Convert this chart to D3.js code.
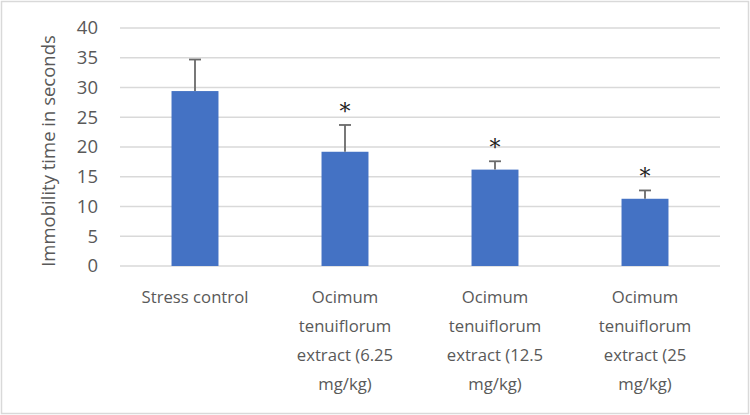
<!DOCTYPE html>
<html>
<head>
<meta charset="utf-8">
<script src="https://cdn.jsdelivr.net/npm/d3@7"></script>
<style>
  body { margin: 0; background: #fff; }
  text { font-family: "Open Sans", "Liberation Sans", sans-serif; }
</style>
</head>
<body>
<svg id="mainsvg"></svg>
<script>
// data
let groups = ["Stress control",
              "Ocimum tenuiflorum extract (6.25 mg/kg)",
              "Ocimum tenuiflorum extract (12.5 mg/kg)",
              "Ocimum tenuiflorum extract (25 mg/kg)"];
let labelLines = [["Stress control"],
                  ["Ocimum", "tenuiflorum", "extract (6.25", "mg/kg)"],
                  ["Ocimum", "tenuiflorum", "extract (12.5", "mg/kg)"],
                  ["Ocimum", "tenuiflorum", "extract (25", "mg/kg)"]];
let means = [29.4, 19.2, 16.2, 11.3];
let errors = [5.3, 4.5, 1.4, 1.4];
let significant = [false, true, true, true];
let yTicks = [0, 5, 10, 15, 20, 25, 30, 35, 40];

let svgWidth = 750, svgHeight = 415,
    margin = {top: 28, left: 120, right: 30, bottom: 149},
    width = svgWidth - margin.left - margin.right,
    height = svgHeight - margin.top - margin.bottom;

let rows = groups.map((d, i) => ({name: d, mean: means[i], err: errors[i], sig: significant[i], lines: labelLines[i]}));

let mainsvg = d3.select("#mainsvg").attr("width", svgWidth).attr("height", svgHeight);

// chart frame
mainsvg.append("rect")
    .attr("x", 1.5).attr("y", 1.5)
    .attr("width", svgWidth - 3).attr("height", svgHeight - 3)
    .attr("fill", "#fff").attr("stroke", "#d9d9d9").attr("stroke-width", 1.5);

let g = mainsvg.append("g").attr("transform", `translate(${margin.left},${margin.top})`);

let scaleX = d3.scaleBand().domain(groups).range([0, width]).paddingInner(0.687).paddingOuter(0.3435);
let scaleY = d3.scaleLinear().domain([0, 40]).range([height, 0]);
let cx = d => scaleX(d.name) + scaleX.bandwidth() / 2;

// gridlines
g.append("g").selectAll("line").data(yTicks).enter().append("line")
    .attr("x1", 0).attr("x2", width)
    .attr("y1", d => scaleY(d)).attr("y2", d => scaleY(d))
    .attr("stroke", "#d9d9d9").attr("stroke-width", 1.5);

// y axis labels
let yAxis = g.append("g")
    .call(d3.axisLeft(scaleY).tickValues(yTicks).tickSize(0).tickPadding(22));
yAxis.select(".domain").remove();
yAxis.selectAll("text")
    .attr("font-size", 18.5).attr("fill", "#595959")
    .style("font-family", "'Open Sans', sans-serif");

// bars
g.append("g").selectAll("rect").data(rows).enter().append("rect")
    .attr("x", d => scaleX(d.name))
    .attr("width", scaleX.bandwidth())
    .attr("y", d => scaleY(d.mean))
    .attr("height", d => scaleY(0) - scaleY(d.mean))
    .attr("fill", "#4472c4");

// error bars (upper only)
let err = g.append("g").attr("stroke", "#6a6a6a").attr("stroke-width", 1.8);
err.selectAll(".stem").data(rows).enter().append("line")
    .attr("x1", cx).attr("x2", cx)
    .attr("y1", d => scaleY(d.mean)).attr("y2", d => scaleY(d.mean + d.err));
err.selectAll(".cap").data(rows).enter().append("line")
    .attr("x1", d => cx(d) - 6).attr("x2", d => cx(d) + 6)
    .attr("y1", d => scaleY(d.mean + d.err)).attr("y2", d => scaleY(d.mean + d.err));

// significance asterisks
g.append("g").selectAll("text").data(rows.filter(d => d.sig)).enter()
    .append("text")
    .attr("x", cx)
    .attr("y", d => scaleY(d.mean + d.err) - 6)
    .attr("text-anchor", "middle")
    .attr("font-size", 22).attr("fill", "#222")
    .style("font-family", "'DejaVu Serif', serif")
    .text("*");

// x category labels
let xl = g.append("g").attr("transform", `translate(0,${height})`);
rows.forEach(d => {
    let t = xl.append("text")
        .attr("y", 37)
        .attr("text-anchor", "middle")
        .attr("font-size", 16.7).attr("fill", "#595959");
    t.selectAll("tspan").data(d.lines).enter().append("tspan")
        .attr("x", cx(d))
        .attr("dy", (l, k) => k === 0 ? 0 : 29)
        .text(l => l);
});

// y axis title
mainsvg.append("text")
    .attr("transform", `translate(55,${margin.top + height / 2 + 4}) rotate(-90)`)
    .attr("text-anchor", "middle")
    .attr("font-size", 18.5).attr("fill", "#595959")
    .text("Immobility time in seconds");
</script>
</body>
</html>
